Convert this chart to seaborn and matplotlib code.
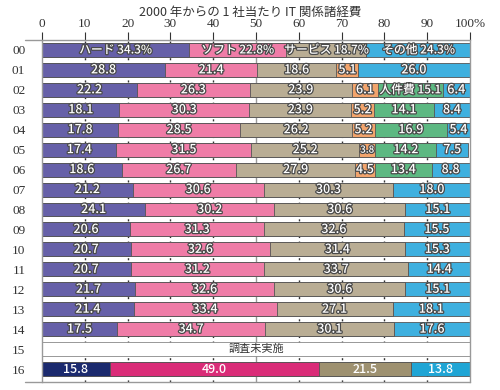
import matplotlib
matplotlib.use("Agg")
import matplotlib.pyplot as plt
import matplotlib.patheffects as pe
import numpy as np
import pandas as pd
import seaborn as sns

# years, top to bottom
rows = ["00", "01", "02", "03", "04", "05", "06", "07", "08",
        "09", "10", "11", "12", "13", "14", "15", "16"]
nan = np.nan
hard = [34.3, 28.8, 22.2, 18.1, 17.8, 17.4, 18.6, 21.2, 24.1,
        20.6, 20.7, 20.7, 21.7, 21.4, 17.5, nan, 15.8]
soft = [22.8, 21.4, 26.3, 30.3, 28.5, 31.5, 26.7, 30.6, 30.2,
        31.3, 32.6, 31.2, 32.6, 33.4, 34.7, nan, 49.0]
service = [18.7, 18.6, 23.9, 23.9, 26.2, 25.2, 27.9, 30.3, 30.6,
           32.6, 31.4, 33.7, 30.6, 27.1, 30.1, nan, 21.5]
orange = [0, 5.1, 6.1, 5.2, 5.2, 3.8, 4.5, 0, 0,
          0, 0, 0, 0, 0, 0, nan, 0]
staff = [0, 0, 15.1, 14.1, 16.9, 14.2, 13.4, 0, 0,
         0, 0, 0, 0, 0, 0, nan, 0]
other = [24.3, 26.0, 6.4, 8.4, 5.4, 7.5, 8.8, 18.0, 15.1,
         15.5, 15.3, 14.4, 15.1, 18.1, 17.6, nan, 13.8]

layers = ["hard", "soft", "service", "orange", "staff", "other"]
values = {"hard": hard, "soft": soft, "service": service,
          "orange": orange, "staff": staff, "other": other}
colors = {"hard": "#6660a8", "soft": "#ef7ca7", "service": "#b9ad94",
          "orange": "#f2a46c", "staff": "#5db882", "other": "#3eb0df"}
colors16 = {"hard": "#1b2a6e", "soft": "#da2c78", "service": "#9e9170",
            "orange": "#f2a46c", "staff": "#5db882", "other": "#1fa5d5"}
first_labels = {"hard": "ハード 34.3%", "soft": "ソフト 22.8%",
                "service": "サービス 18.7%", "other": "その他 24.3%"}
staff_label = "人件費 15.1"
title = "2000 年からの 1 社当たり IT 関係諸経費"
skip_label = "調査未実施"

df = pd.DataFrame(values, index=rows)
cum = df.cumsum(axis=1)

sns.set_theme(style="white")
plt.rcParams["font.family"] = ["Noto Sans CJK JP", "DejaVu Sans"]

fig = plt.figure(figsize=(5, 3.9), dpi=100)
ax = fig.add_axes([0.084, 0.0205, 0.856, 0.877])

# gridlines behind bars
for g in range(10, 100, 10):
    if g == 50:
        ax.axvline(g, color="#999999", lw=1.0, zorder=0)
    else:
        ax.axvline(g, color="#333333", lw=1.0, ls=(0, (1.5, 2.5)), zorder=0)

# stacked bars: draw cumulative totals from the outermost layer inwards
for layer in reversed(layers):
    d = pd.DataFrame({"row": rows, "x": cum[layer].values})
    pal = {r: (colors16[layer] if r == "16" else colors[layer]) for r in rows}
    sns.barplot(data=d, x="x", y="row", hue="row", palette=pal, order=rows,
                orient="h", width=0.7, errorbar=None, legend=False,
                edgecolor="#555555", linewidth=0.6, saturation=1, ax=ax, zorder=2)

# survey-not-done row
i15 = rows.index("15")
ax.barh(i15, 100, height=0.7, color="white", edgecolor="#888888", lw=0.6, zorder=2)
ax.text(50, i15, skip_label, ha="center", va="center", fontsize=8,
        color="#333333", zorder=4)

stroke = [pe.withStroke(linewidth=1.8, foreground="#4a4a4a")]
for i, r in enumerate(rows):
    if r == "15":
        continue
    for layer in layers:
        v = df.loc[r, layer]
        if not v:
            continue
        xc = cum.loc[r, layer] - v / 2
        if r == "00":
            txt = first_labels[layer]
        elif r == "02" and layer == "staff":
            txt = staff_label
        else:
            txt = f"{v:.1f}"
        fs = 7 if v < 4 else (8.5 if r == "00" or txt == staff_label else 9)
        ax.text(xc, i, txt, ha="center", va="center", fontsize=fs,
                color="white", fontweight="medium",
                path_effects=None if r == "16" else stroke, zorder=4)

ax.set_xlim(0, 100)
ax.set_ylim(16.65, -0.5)
ax.set_xlabel("")
ax.set_ylabel("")
ax.xaxis.tick_top()
ax.set_xticks(range(0, 101, 10))
ax.set_xticklabels([str(t) for t in range(0, 100, 10)] + ["100%"],
                   family="Liberation Serif", fontsize=9.5, color="#333333")
ax.tick_params(axis="x", length=6, width=0.8, color="#333333", pad=1, top=True)
ax.set_yticks(range(len(rows)))
ax.set_yticklabels(rows, family="Liberation Serif", fontsize=9.5, color="#333333")
ax.tick_params(axis="y", length=0, pad=12)

for s in ["top", "bottom"]:
    ax.spines[s].set_visible(False)
for s in ["left", "right"]:
    ax.spines[s].set_color("#999999")
    ax.spines[s].set_linewidth(1)
# horizontal rules extending slightly past the left edge
for yy in (0, 1):
    ax.plot([-0.04, 1], [yy, yy], transform=ax.transAxes, color="#999999",
            lw=1, clip_on=False, zorder=5)

fig.text(0.5, 0.968, title, ha="center", va="center", fontsize=9, color="#333333")

fig.savefig("out.png", dpi=100)
